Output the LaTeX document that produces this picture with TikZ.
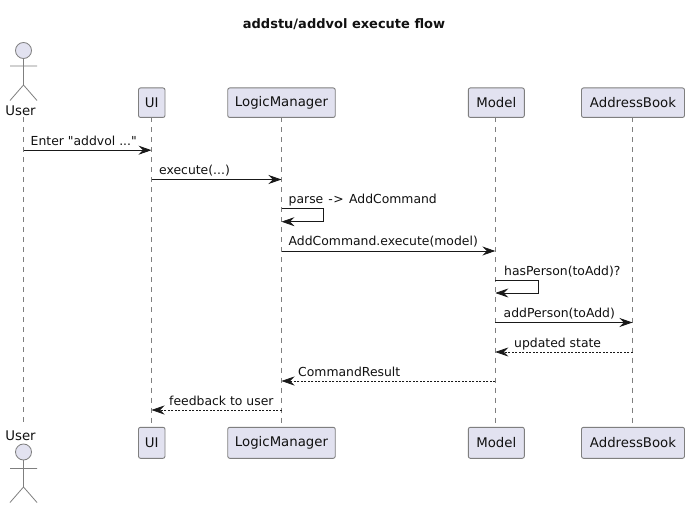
\documentclass[tikz,border=0pt]{standalone}
\usepackage{fontspec}
\setmainfont[Ligatures=TeXOff]{DejaVu Sans}
\usetikzlibrary{arrows.meta,calc}
\definecolor{pfill}{HTML}{E2E2F0}
\definecolor{pline}{HTML}{7F7F7F}
\definecolor{ptext}{HTML}{111111}
\tikzset{
  x=1pt,y=-1pt,
  partbox/.style={draw=pline,fill=pfill,rounded corners=2pt,line width=0.9pt,inner sep=0pt,text=ptext,font=\fontsize{13.3}{15}\selectfont},
  lifeline/.style={draw=pline,line width=0.7pt,dash pattern=on 5pt off 5pt},
  msg/.style={draw=black!90,line width=0.8pt,-{Stealth[length=13pt,width=9pt,inset=4.5pt]}},
  retmsg/.style={msg,line width=0.7pt,dash pattern=on 2pt off 1.5pt},
  lbl/.style={anchor=base west,inner sep=0pt,text=ptext,font=\fontsize{12.4}{14}\selectfont},
  actorname/.style={inner sep=0pt,text=ptext,font=\fontsize{13.3}{15}\selectfont},
  actorline/.style={draw=pline,line width=0.8pt},
}
\begin{document}
\begin{tikzpicture}
\useasboundingbox (0,0) rectangle (689,508);
\fill[white] (0,0) rectangle (689,508);
\node[inner sep=0pt,text=ptext,font=\bfseries\fontsize{13}{15}\selectfont] (title) at (344,24) {addstu/addvol execute flow};

% lifeline x positions
\coordinate (xuser) at (23.5,0);
\coordinate (xui) at (151.5,0);
\coordinate (xlm) at (281.5,0);
\coordinate (xmodel) at (495.3,0);
\coordinate (xab) at (632.5,0);
\coordinate (top) at (0,117.5);
\coordinate (bot) at (0,424);
\coordinate (usertop) at (0,117);

% lifelines
\draw[lifeline] (xuser |- usertop) -- (xuser |- bot);
\foreach \p in {xui,xlm,xmodel,xab} \draw[lifeline] (\p |- top) -- (\p |- bot);

% participant boxes
\node[partbox,minimum width=26.5pt,minimum height=29.5pt] (uiT) at (151.75,102.7) {UI};
\node[partbox,minimum width=107.5pt,minimum height=29.5pt] (lmT) at (281.5,102.7) {LogicManager};
\node[partbox,minimum width=56pt,minimum height=29.5pt] (modelT) at (496.3,102.7) {Model};
\node[partbox,minimum width=103pt,minimum height=29.5pt] (abT) at (633,102.7) {AddressBook};
\node[partbox,minimum width=26.5pt,minimum height=31pt] (uiB) at (151.75,442.8) {UI};
\node[partbox,minimum width=107.5pt,minimum height=31pt] (lmB) at (281.5,442.8) {LogicManager};
\node[partbox,minimum width=56pt,minimum height=31pt] (modelB) at (496.3,442.8) {Model};
\node[partbox,minimum width=103pt,minimum height=31pt] (abB) at (633,442.8) {AddressBook};

% actors
\node[actorname] (userT) at (20.5,111) {User};
\node[actorname] (userB) at (20.5,436) {User};
\draw[actorline,fill=pfill] (23.5,50.5) circle (8);
\draw[actorline] (23.5,58.5) -- (23.5,85) (10,66) -- (37,66) (10,100.5) -- (23.5,85) -- (37,100.5);
\draw[actorline,fill=pfill] (23.5,452) circle (8);
\draw[actorline] (23.5,460) -- (23.5,487) (10,468.5) -- (37,468.5) (10,502.5) -- (23.5,487) -- (37,502.5);

% message rows
\coordinate (r1) at (0,150.2);
\coordinate (r2) at (0,179.5);
\coordinate (r3a) at (0,208.5);
\coordinate (r3b) at (0,221.7);
\coordinate (r4) at (0,251);
\coordinate (r5a) at (0,280.5);
\coordinate (r5b) at (0,293);
\coordinate (r6) at (0,322.5);
\coordinate (r7) at (0,352);
\coordinate (r8) at (0,381);
\coordinate (r9) at (0,410);

\draw[msg] (xuser |- r1) -- (xui |- r1);
\draw[msg] (xui |- r2) -- (xlm |- r2);
\draw[msg] (xlm |- r3a) -- ++(42,0) |- (xlm |- r3b);
\draw[msg] (xlm |- r4) -- (xmodel |- r4);
\draw[msg] (xmodel |- r5a) -- ++(43,0) |- (xmodel |- r5b);
\draw[msg] (xmodel |- r6) -- (xab |- r6);
\draw[retmsg] (xab |- r7) -- (xmodel |- r7);
\draw[retmsg] (xmodel |- r8) -- (xlm |- r8);
\draw[retmsg] (xlm |- r9) -- (xui |- r9);

% message labels
\node[lbl] (l1) at (30.5,145.5) {Enter "addvol ..."};
\node[lbl] (l2) at (159,175) {execute(...)};
\node[lbl] (l3) at (288.5,204) {parse\kern1pt{} -\kern0.5pt>\kern1.5pt{} AddCommand};
\node[lbl] (l4) at (288.5,246) {AddCommand.execute(model)};
\node[lbl] (l5) at (504,275.5) {hasPerson(toAdd)?};
\node[lbl] (l6) at (503.5,317.5) {addPerson(toAdd)};
\node[lbl] (l7) at (514,347) {updated state};
\node[lbl] (l8) at (298,376) {CommandResult};
\node[lbl] (l9) at (169,405) {feedback to user};
\end{tikzpicture}
\end{document}
